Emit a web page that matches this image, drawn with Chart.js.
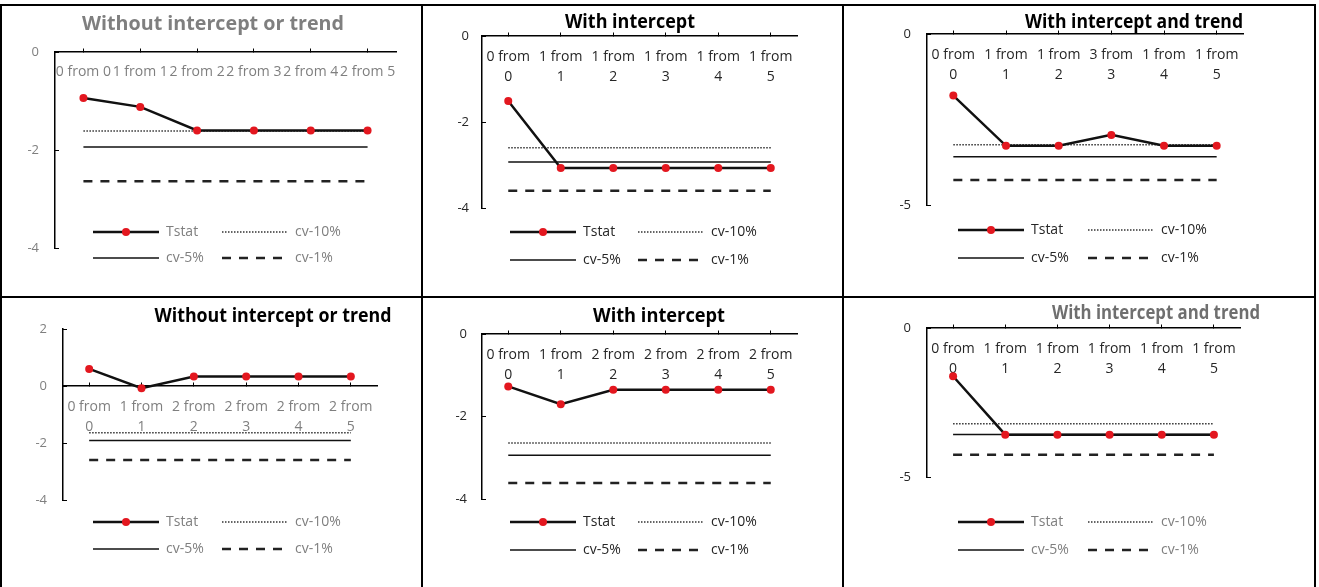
<!DOCTYPE html>
<html>
<head>
<meta charset="utf-8">
<script src="https://cdn.jsdelivr.net/npm/chart.js@4.4.1/dist/chart.umd.min.js"></script>
<style>
html,body{margin:0;padding:0;background:#fff;}
#wrap{position:relative;width:1319px;height:587px;overflow:hidden;background:#fff;}
#wrap canvas{position:absolute;left:0;top:0;}
.ln{position:absolute;background:#000;z-index:5;}
</style>
</head>
<body>
<div id="wrap">
  <div class="ln" style="left:0;top:4px;width:1316px;height:2px"></div>
  <div class="ln" style="left:0;top:296px;width:1316px;height:2px"></div>
  <div class="ln" style="left:0;top:4px;width:2px;height:590px"></div>
  <div class="ln" style="left:421px;top:4px;width:2px;height:590px"></div>
  <div class="ln" style="left:842px;top:4px;width:2px;height:590px"></div>
  <div class="ln" style="left:1314px;top:4px;width:2px;height:590px"></div>
</div>
<script>
// ---------------- DATA ----------------
const seriesNames = ['Tstat', 'cv-10%', 'cv-5%', 'cv-1%'];

const titles = [
  'Without intercept or trend', 'With intercept', 'With intercept and trend',
  'Without intercept or trend', 'With intercept', 'With intercept and trend'
];

const labelsP1 = ['0 from 0', '1 from 1', '2 from 2', '2 from 3', '2 from 4', '2 from 5'];
const labelsP2 = ['0 from 0', '1 from 1', '1 from 2', '1 from 3', '1 from 4', '1 from 5'];
const labelsP3 = ['0 from 0', '1 from 1', '1 from 2', '3 from 3', '1 from 4', '1 from 5'];
const labelsP4 = ['0 from 0', '1 from 1', '2 from 2', '2 from 3', '2 from 4', '2 from 5'];
const labelsP5 = ['0 from 0', '1 from 1', '2 from 2', '2 from 3', '2 from 4', '2 from 5'];
const labelsP6 = ['0 from 0', '1 from 1', '1 from 2', '1 from 3', '1 from 4', '1 from 5'];

const tstatP1 = [-0.94, -1.12, -1.60, -1.60, -1.60, -1.60];
const cv10P1  = [-1.61, -1.61, -1.61, -1.61, -1.61, -1.61];
const cv5P1   = [-1.94, -1.94, -1.94, -1.94, -1.94, -1.94];
const cv1P1   = [-2.64, -2.64, -2.64, -2.64, -2.64, -2.64];

const tstatP2 = [-1.51, -3.07, -3.07, -3.07, -3.07, -3.07];
const cv10P2  = [-2.60, -2.60, -2.60, -2.60, -2.60, -2.60];
const cv5P2   = [-2.93, -2.93, -2.93, -2.93, -2.93, -2.93];
const cv1P2   = [-3.60, -3.60, -3.60, -3.60, -3.60, -3.60];

const tstatP3 = [-1.80, -3.27, -3.27, -2.95, -3.27, -3.27];
const cv10P3  = [-3.24, -3.24, -3.24, -3.24, -3.24, -3.24];
const cv5P3   = [-3.59, -3.59, -3.59, -3.59, -3.59, -3.59];
const cv1P3   = [-4.27, -4.27, -4.27, -4.27, -4.27, -4.27];

const tstatP4 = [0.60, -0.08, 0.33, 0.33, 0.33, 0.33];
const cv10P4  = [-1.64, -1.64, -1.64, -1.64, -1.64, -1.64];
const cv5P4   = [-1.91, -1.91, -1.91, -1.91, -1.91, -1.91];
const cv1P4   = [-2.60, -2.60, -2.60, -2.60, -2.60, -2.60];

const tstatP5 = [-1.27, -1.70, -1.35, -1.35, -1.35, -1.35];
const cv10P5  = [-2.64, -2.64, -2.64, -2.64, -2.64, -2.64];
const cv5P5   = [-2.94, -2.94, -2.94, -2.94, -2.94, -2.94];
const cv1P5   = [-3.61, -3.61, -3.61, -3.61, -3.61, -3.61];

const tstatP6 = [-1.62, -3.58, -3.58, -3.58, -3.58, -3.58];
const cv10P6  = [-3.21, -3.21, -3.21, -3.21, -3.21, -3.21];
const cv5P6   = [-3.57, -3.57, -3.57, -3.57, -3.57, -3.57];
const cv1P6   = [-4.25, -4.25, -4.25, -4.25, -4.25, -4.25];

// y-axis ranges (tick values)
const yMin  = [-4, -4, -5, -4, -4, -5];
const yMax  = [0, 0, 0, 2, 0, 0];
const yStep = [2, 2, 5, 2, 2, 5];

// ---------------- LAYOUT / STYLE ----------------
const W = 1319, H = 587;
const YAXIS_W = 40;
const FONT = '"Open Sans", "Liberation Sans", sans-serif';
const GRAY = '#7f7f7f', DARK = '#262626';

const layout = [
  { area: {l: 55,  r: 396,  t: 52,  b: 248}, wrap: false, xPad: 14, yPad: 20,
    title: {x: 213, y: 25, w: 262, color: GRAY}, axisColor: GRAY,
    legend: {x1: 93,  x2: 222,  y1: 232, y2: 258, color: GRAY} },
  { area: {l: 482, r: 797,  t: 36,  b: 208}, wrap: true, xPad: 15, yPad: 17,
    title: {x: 630, y: 23, w: 130, color: '#000'}, axisColor: DARK,
    legend: {x1: 510, x2: 638,  y1: 232, y2: 260, color: DARK} },
  { area: {l: 927, r: 1243, t: 34,  b: 205}, wrap: true, xPad: 15, yPad: 20,
    title: {x: 1134, y: 23, w: 218, color: '#000'}, axisColor: DARK,
    legend: {x1: 958, x2: 1088, y1: 230, y2: 258, color: DARK} },
  { area: {l: 63,  r: 377,  t: 329, b: 500}, wrap: true, xPad: 15, yPad: 20,
    title: {x: 273, y: 317, w: 237, color: '#000'}, axisColor: GRAY,
    legend: {x1: 93,  x2: 222,  y1: 522, y2: 549, color: GRAY} },
  { area: {l: 482, r: 797,  t: 334, b: 499}, wrap: true, xPad: 15, yPad: 19,
    title: {x: 659, y: 317, w: 132, color: '#000'}, axisColor: DARK,
    legend: {x1: 510, x2: 638,  y1: 522, y2: 550, color: DARK} },
  { area: {l: 927, r: 1240, t: 328, b: 477}, wrap: true, xPad: 15, yPad: 20,
    title: {x: 1156, y: 314, w: 208, color: '#6f6f6f'}, axisColor: DARK,
    legend: {x1: 958, x2: 1088, y1: 522, y2: 550, color: GRAY} }
];

const panelData = [
  {labels: labelsP1, series: [tstatP1, cv10P1, cv5P1, cv1P1]},
  {labels: labelsP2, series: [tstatP2, cv10P2, cv5P2, cv1P2]},
  {labels: labelsP3, series: [tstatP3, cv10P3, cv5P3, cv1P3]},
  {labels: labelsP4, series: [tstatP4, cv10P4, cv5P4, cv1P4]},
  {labels: labelsP5, series: [tstatP5, cv10P5, cv5P5, cv1P5]},
  {labels: labelsP6, series: [tstatP6, cv10P6, cv5P6, cv1P6]}
];

const seriesStyle = [
  {borderColor: '#111', borderWidth: 2.5, borderDash: [], pointRadius: 4,
   pointBackgroundColor: '#e3171f', pointBorderColor: '#e3171f', pointBorderWidth: 0},
  {borderColor: '#333', borderWidth: 1.5, borderDash: [1.5, 1.5], pointRadius: 0},
  {borderColor: '#111', borderWidth: 1.5, borderDash: [], pointRadius: 0},
  {borderColor: '#222', borderWidth: 2.5, borderDash: [9, 8], pointRadius: 0}
];

// custom title + legend drawing (Excel-like layout)
const panelDecor = {
  id: 'panelDecor',
  afterDraw(chart, args, opts) {
    const ctx = chart.ctx;
    const t = opts.title;
    ctx.save();
    ctx.font = 'bold 19px ' + FONT;
    ctx.fillStyle = t.color;
    ctx.textAlign = 'center';
    ctx.textBaseline = 'middle';
    const tw = ctx.measureText(t.text).width;
    ctx.translate(t.x, t.y);
    ctx.scale(t.w / tw, 1);
    ctx.fillText(t.text, 0, 0);
    ctx.restore();

    const lg = opts.legend;
    const pos = [[lg.x1, lg.y1], [lg.x2, lg.y1], [lg.x1, lg.y2], [lg.x2, lg.y2]];
    const lineLen = 66;
    chart.data.datasets.forEach((ds, i) => {
      const [x, y] = pos[i];
      ctx.save();
      ctx.strokeStyle = ds.borderColor;
      ctx.lineWidth = ds.borderWidth;
      ctx.setLineDash(ds.borderDash || []);
      ctx.beginPath();
      ctx.moveTo(x, y);
      ctx.lineTo(x + lineLen, y);
      ctx.stroke();
      ctx.setLineDash([]);
      if (ds.pointRadius > 0) {
        ctx.fillStyle = ds.pointBackgroundColor;
        ctx.beginPath();
        ctx.arc(x + lineLen / 2, y, ds.pointRadius, 0, Math.PI * 2);
        ctx.fill();
      }
      ctx.font = '14px ' + FONT;
      ctx.fillStyle = lg.color;
      ctx.textAlign = 'left';
      ctx.textBaseline = 'middle';
      ctx.fillText(ds.label, x + lineLen + 7, y);
      ctx.restore();
    });
  }
};

const wrapEl = document.getElementById('wrap');

panelData.forEach((pd, k) => {
  const L = layout[k];
  const cv = document.createElement('canvas');
  cv.width = W; cv.height = H;
  cv.style.width = W + 'px'; cv.style.height = H + 'px';
  wrapEl.appendChild(cv);

  const labels = L.wrap ? pd.labels.map(s => {
    const i = s.lastIndexOf(' ');
    return [s.slice(0, i), s.slice(i + 1)];
  }) : pd.labels;

  const datasets = pd.series.map((vals, i) => Object.assign({
    label: seriesNames[i],
    data: vals,
    tension: 0,
    fill: false,
    pointHoverRadius: 0,
    clip: false
  }, seriesStyle[i]));

  new Chart(cv, {
    type: 'line',
    data: {labels: labels, datasets: datasets},
    plugins: [panelDecor],
    options: {
      responsive: false,
      animation: false,
      events: [],
      layout: {padding: {left: L.area.l - YAXIS_W, right: W - L.area.r, top: L.area.t, bottom: H - L.area.b}},
      plugins: {
        legend: {display: false},
        title: {display: false},
        tooltip: {enabled: false},
        panelDecor: {
          title: Object.assign({text: titles[k]}, L.title),
          legend: L.legend
        }
      },
      scales: {
        x: {
          type: 'category',
          offset: true,
          position: {y: 0},
          afterFit: s => { s.height = 0; },
          grid: {display: true, drawOnChartArea: false, drawTicks: true, tickLength: -4,
                 color: '#000', lineWidth: 1, offset: false},
          border: {display: true, color: '#000', width: 1.5},
          ticks: {autoSkip: false, maxRotation: 0, minRotation: 0, padding: L.xPad,
                  color: L.axisColor, font: {family: FONT, size: 14, lineHeight: 1.45}}
        },
        y: {
          type: 'linear',
          min: yMin[k], max: yMax[k],
          afterFit: s => { s.width = YAXIS_W; },
          grid: {display: true, drawOnChartArea: false, drawTicks: true, tickLength: -4,
                 color: '#000', lineWidth: 1},
          border: {display: true, color: '#000', width: 1.5},
          ticks: {stepSize: yStep[k], padding: L.yPad, color: L.axisColor,
                  font: {family: FONT, size: 13}}
        }
      }
    }
  });
});
</script>
</body>
</html>
